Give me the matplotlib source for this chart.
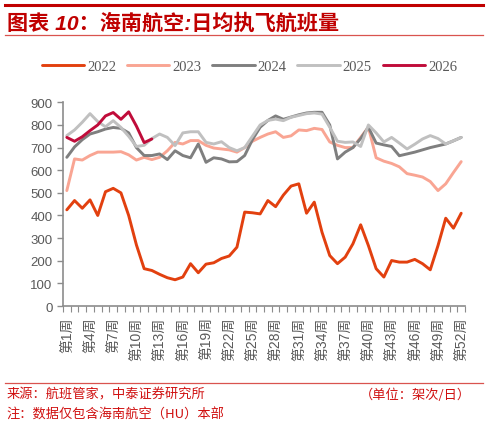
import matplotlib
matplotlib.use('Agg')
import matplotlib.pyplot as plt
from matplotlib.lines import Line2D

plt.rcParams['font.family'] = ['Liberation Sans', 'Noto Sans CJK SC']

weeks = list(range(1, 53))
week_labels = ['第%d周' % w for w in weeks]

y2022 = [425, 466, 432, 469, 400, 505, 520, 500, 400, 270, 165, 157, 140,
         125, 116, 128, 187, 147, 185, 191, 210, 221, 260, 415, 412, 407,
         466, 439, 490, 530, 540, 410, 459, 326, 223, 187, 216, 275, 359,
         267, 165, 128, 201, 194, 194, 206, 187, 160, 267, 388, 344, 410]
y2023 = [510, 650, 645, 665, 680, 680, 680, 682, 668, 645, 657, 647, 657,
         686, 723, 716, 731, 731, 710, 698, 694, 690, 680, 700, 728, 745,
         760, 770, 745, 752, 778, 775, 785, 780, 725, 710, 700, 700, 745,
         790, 655, 640, 630, 615, 585, 578, 570, 550, 510, 540, 590, 638]
y2024 = [657, 703, 735, 760, 770, 782, 789, 785, 765, 700, 665, 665, 672,
         647, 686, 665, 655, 716, 635, 655, 650, 637, 638, 665, 735, 790,
         820, 840, 825, 835, 845, 853, 856, 856, 800, 650, 680, 700, 740,
         790, 720, 712, 705, 664, 672, 680, 690, 700, 708, 716, 730, 745]
y2025 = [753, 778, 812, 850, 815, 792, 819, 789, 750, 705, 710, 740, 760,
         745, 709, 765, 770, 770, 723, 716, 726, 700, 686, 700, 750, 800,
         820, 826, 819, 834, 842, 850, 853, 848, 790, 728, 723, 725, 705,
         800, 765, 725, 745, 720, 694, 715, 738, 753, 740, 716, 730, 745]
y2026 = [745, 728, 748, 775, 800, 840, 855, 825, 858, 795, 722, 738]

series = [('2022', y2022, '#E2400F'),
          ('2023', y2023, '#F9A593'),
          ('2024', y2024, '#7F7F7F'),
          ('2025', y2025, '#C0C0C0'),
          ('2026', y2026, '#C00C3A')]

fig = plt.figure(figsize=(4.88, 4.27), dpi=100)
ax = fig.add_axes([0.129, 0.281, 0.824, 0.477])

for name, vals, col in series:
    ax.plot(weeks[:len(vals)], vals, color=col, lw=2.1, label=name,
            solid_joinstyle='round', solid_capstyle='round')

ax.set_xlim(0.5, 52.5)
ax.set_ylim(0, 900)
ax.set_yticks(range(0, 901, 100))
ax.set_xticks(weeks[::3])
ax.set_xticklabels(week_labels[::3], rotation=90)
ax.set_xticks([w + 0.5 for w in range(0, 53)], minor=True)

for s in ['top', 'right']:
    ax.spines[s].set_visible(False)
for s in ['left', 'bottom']:
    ax.spines[s].set_color('#8C8C8C')
    ax.spines[s].set_linewidth(1.2)

ax.tick_params(axis='y', colors='#8C8C8C', labelcolor='#595959',
               labelsize=9.5, length=4, width=1)
ax.tick_params(axis='x', which='major', length=0, labelcolor='#595959',
               labelsize=10, pad=7.5)
ax.tick_params(axis='x', which='minor', length=4, color='#8C8C8C', width=0.8)

leg = fig.legend(loc='center', bbox_to_anchor=(0.511, 1 - 67 / 427), ncol=5,
                 frameon=False, handlelength=2.9, handletextpad=0.2,
                 columnspacing=0.75, prop={'family': 'Liberation Serif', 'size': 10.5})
for t in leg.get_texts():
    t.set_color('#595959')

# header and footer
fig.add_artist(Line2D([0.01, 0.99], [1 - 6 / 427] * 2, color='#C00000', lw=2.2))
fig.text(0.014, 1 - 23 / 427, '图表 10：海南航空:日均执飞航班量', color='#C00000',
         fontsize=15.2, fontweight='bold', style='italic', va='center', ha='left')
fig.add_artist(Line2D([0.01, 0.99], [1 - 36 / 427] * 2, color='#D9534F', lw=0.9))

fig.add_artist(Line2D([0.01, 0.99], [1 - 384 / 427] * 2, color='#D9534F', lw=0.9))
fig.text(0.014, 1 - 395 / 427, '来源：航班管家，中泰证券研究所', color='#D01010',
         fontsize=9.5, va='center', ha='left', family='Noto Sans CJK SC')
fig.text(0.965, 1 - 395 / 427, '（单位：架次/日）', color='#D01010',
         fontsize=9.5, va='center', ha='right', family='Noto Sans CJK SC')
fig.text(0.014, 1 - 415 / 427, '注：数据仅包含海南航空（HU）本部', color='#D01010',
         fontsize=9.5, va='center', ha='left', family='Noto Sans CJK SC')

fig.savefig('out.png', dpi=100)
